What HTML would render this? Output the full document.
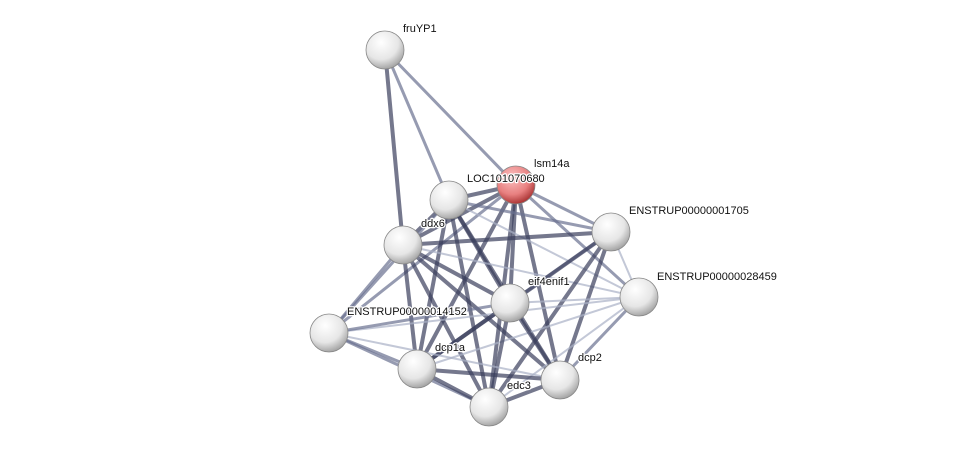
<!DOCTYPE html><html><head><style>body{margin:0;background:#fff}svg{display:block}text{font-family:"Liberation Sans",sans-serif;font-size:11px;fill:#111;paint-order:stroke;stroke:#fff;stroke-width:2.5px;stroke-linejoin:round}</style></head><body>
<svg width="975" height="452" viewBox="0 0 975 452">
<defs>
<radialGradient id="g" cx="0.4" cy="0.3" r="0.75"><stop offset="0" stop-color="#fff"/><stop offset="0.6" stop-color="#e6e6e6"/><stop offset="1" stop-color="#9a9a9a"/></radialGradient>
<radialGradient id="r" cx="0.4" cy="0.3" r="0.75"><stop offset="0" stop-color="#fbc0c0"/><stop offset="0.6" stop-color="#e88080"/><stop offset="1" stop-color="#a02828"/></radialGradient>
</defs>
<g stroke-linecap="round" fill="none" id="e"></g>
<g id="n"></g>
</svg>
<script>
var N={f:[385,50],l:[516,185],L:[449,200],d:[403,245],a:[611,232],b:[639,297],e:[510,303],c:[329,333],p:[417,369],q:[560,380],h:[489,407]};
var T={k:["#3b3f5c",4],m:["#6a7090",3],t:["#aab0c6",2]};
var E="fl m,fL m,fd k,lL k,ld k,la m,lb m,le k,lp k,lq k,lh k,lc m,Ld k,La m,Le k,Lp k,Lq k,Lh k,Lc m,Lb t,da k,db t,de k,dc m,dp k,dq k,dh k,ae m,ap k,aq k,ah k,ab t,be t,bp t,bq m,bh t,bc t,ep k,eq k,eh k,ec m,cp m,ch m,cq t,pq k,ph k,qh k".split(",");
var ns="http://www.w3.org/2000/svg",g=document.getElementById("e");
E.forEach(function(s){var a=N[s[0]],b=N[s[1]],t=T[s.split(" ")[1]];var l=document.createElementNS(ns,"line");l.setAttribute("x1",a[0]);l.setAttribute("y1",a[1]);l.setAttribute("x2",b[0]);l.setAttribute("y2",b[1]);l.setAttribute("stroke",t[0]);l.setAttribute("stroke-width",t[1]);l.setAttribute("opacity","0.7");g.appendChild(l);});
var n=document.getElementById("n");
for(var k in N){var c=document.createElementNS(ns,"circle");c.setAttribute("cx",N[k][0]);c.setAttribute("cy",N[k][1]);c.setAttribute("r",19);c.setAttribute("fill",k=="l"?"url(#r)":"url(#g)");c.setAttribute("stroke","#888");c.setAttribute("stroke-width","0.8");n.appendChild(c);}
</script>
<svg width="975" height="452" style="position:absolute;left:0;top:0">
<text x="403" y="32">fruYP1</text>
<text x="534" y="167">lsm14a</text>
<text x="467" y="182">LOC101070680</text>
<text x="421" y="227">ddx6</text>
<text x="629" y="214">ENSTRUP00000001705</text>
<text x="657" y="280">ENSTRUP00000028459</text>
<text x="528" y="285">eif4enif1</text>
<text x="347" y="315">ENSTRUP00000014152</text>
<text x="435" y="351">dcp1a</text>
<text x="578" y="361">dcp2</text>
<text x="507" y="389">edc3</text>
</svg>
</body></html>
